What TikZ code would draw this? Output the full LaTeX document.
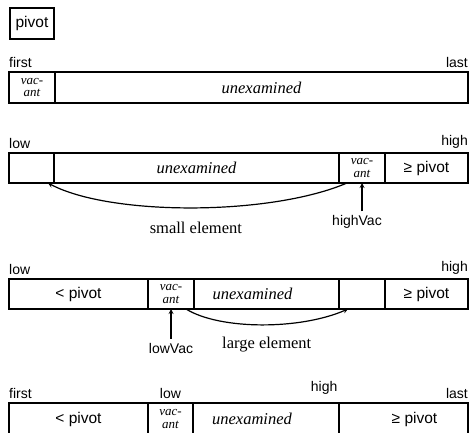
\documentclass[tikz,border=0pt]{standalone}
\usepackage{fontspec}
\setmainfont{Liberation Serif}
\setsansfont{Liberation Sans}
\usetikzlibrary{positioning}

\tikzstyle{cell} = [draw, line width=1.2pt, minimum height=30pt, inner sep=0pt, outer sep=0pt, anchor=north west]
\tikzstyle{vac} = [cell, minimum width=46pt, align=center, font=\rmfamily\itshape\fontsize{13}{12.5}\selectfont]
\tikzstyle{unex} = [cell, font=\rmfamily\itshape\fontsize{16.5}{18}\selectfont]
\tikzstyle{part} = [cell, font=\sffamily\fontsize{15.5}{18}\selectfont]
\tikzstyle{lbl} = [inner xsep=0pt, inner ysep=4pt, font=\sffamily\fontsize{14}{16}\selectfont]
\tikzstyle{note} = [inner sep=1pt, font=\rmfamily\fontsize{16.5}{18}\selectfont]
\tikzstyle{move} = [->, >=stealth, line width=1.2pt]

\begin{document}
\begin{tikzpicture}[x=1pt, y=-1pt]
\useasboundingbox (0,0) rectangle (471,433);
\clip (0,0) rectangle (471,433);

\node[part, minimum width=44pt, minimum height=31pt] (pivot) at (10,8) {pivot};

% start: only the vacant slot and the rest
\node[vac, minimum height=31pt] (v1) at (9,72) {vac-\\ant};
\node[unex, minimum width=413pt, minimum height=31pt, right=0pt of v1] (u1) {unexamined};
\node[lbl, above right=0pt of v1.north west] (first1) {first};
\node[lbl, above left=0pt of u1.north east] (last1) {last};

% scan down from high
\node[part, minimum width=45pt] (s2) at (9,153) {};
\node[unex, minimum width=285pt, right=0pt of s2] (u2) {unexamined};
\node[vac, right=0pt of u2] (v2) {vac-\\ant};
\node[part, minimum width=83pt, right=0pt of v2] (g2) {≥ pivot};
\node[lbl, above right=0pt of s2.north west] (low2) {low};
\node[lbl, above left=0pt of g2.north east] (high2) {high};
\draw[move] ([xshift=8pt]v2.south west) .. controls +(-77,33) and +(62,33) .. ([xshift=-6pt]s2.south east)
    node[note, midway, below=13pt, xshift=4pt] {small element};
\node[lbl] (hv2) at (357,222) {highVac};
\draw[move] (hv2.north -| v2.south) -- (v2.south);

% scan up from low
\node[part, minimum width=139pt] (l3) at (9,279) {< pivot};
\node[vac, right=0pt of l3] (v3) {vac-\\ant};
\node[unex, minimum width=145pt, right=0pt of v3] (u3) {\hspace*{-28pt}unexamined};
\node[part, minimum width=46pt, right=0pt of u3] (b3) {};
\node[part, minimum width=83pt, right=0pt of b3] (g3) {≥ pivot};
\node[lbl, above right=0pt of l3.north west] (low3) {low};
\node[lbl, above left=0pt of g3.north east] (high3) {high};
\draw[move] ([xshift=-8pt]v3.south east) .. controls +(34,21) and +(-48,21) .. ([xshift=9pt]b3.south west)
    node[note, midway, below=11pt, xshift=5pt] {large element};
\node[lbl] (lv3) at (171,348) {lowVac};
\draw[move] (lv3.north -| v3.south) -- (v3.south);

% partition state
\node[part, minimum width=139pt, minimum height=32pt] (l4) at (9,403) {< pivot};
\node[vac, minimum width=45pt, minimum height=32pt, right=0pt of l4] (v4) {vac-\\ant};
\node[unex, minimum width=146pt, minimum height=32pt, right=0pt of v4] (u4) {\hspace*{-28pt}unexamined};
\node[part, minimum width=129pt, minimum height=32pt, right=0pt of u4] (g4) {\hspace*{22pt}≥ pivot};
\node[lbl, above right=0pt of l4.north west] (first4) {first};
\node[lbl, above=0pt of v4.north] (low4) {low};
\node[lbl, above left=2pt of u4.north east, yshift=3pt] (high4) {high};
\node[lbl, above left=0pt of g4.north east] (last4) {last};
\end{tikzpicture}
\end{document}
